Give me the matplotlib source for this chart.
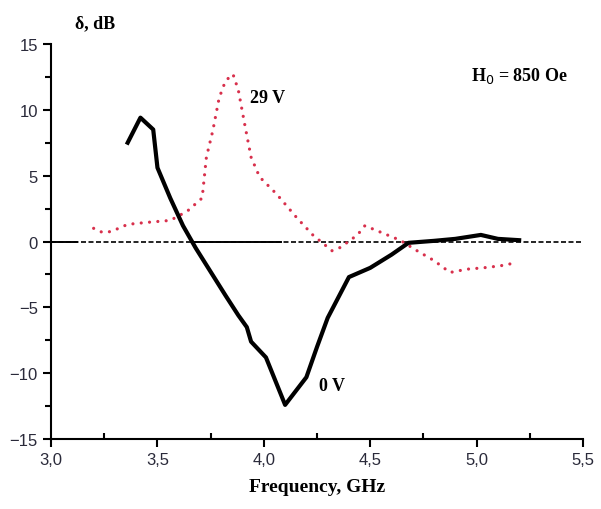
import numpy as np
import matplotlib
matplotlib.use('Agg')
import matplotlib.pyplot as plt

# 0 V curve (black, solid)
freq_0v = [3.36, 3.42, 3.48, 3.50, 3.56, 3.62, 3.68, 3.75, 3.82, 3.88, 3.92, 3.94,
           4.01, 4.05, 4.10, 4.20, 4.25, 4.30, 4.40, 4.50, 4.60, 4.68, 4.80, 4.90,
           5.02, 5.10, 5.20]
delta_0v = [7.5, 9.4, 8.5, 5.6, 3.3, 1.2, -0.5, -2.3, -4.1, -5.6, -6.5, -7.6,
            -8.8, -10.4, -12.4, -10.3, -8.0, -5.8, -2.7, -2.0, -1.0, -0.1, 0.05, 0.2,
            0.5, 0.2, 0.1]

# 29 V curve (red, dotted)
freq_29v = [3.20, 3.24, 3.28, 3.31, 3.36, 3.45, 3.56, 3.64, 3.71, 3.73, 3.76, 3.79,
            3.82, 3.855, 3.88, 3.91, 3.94, 3.98, 4.06, 4.155, 4.23, 4.32, 4.36, 4.44,
            4.475, 4.55, 4.64, 4.72, 4.80, 4.875, 4.955, 5.03, 5.11, 5.19]
delta_29v = [1.0, 0.7, 0.75, 0.95, 1.3, 1.45, 1.6, 2.3, 3.3, 6.4, 8.4, 10.9,
             12.2, 12.7, 11.5, 8.9, 6.4, 4.9, 3.6, 1.8, 0.5, -0.7, -0.45, 0.5,
             1.2, 0.7, 0.1, -0.7, -1.45, -2.35, -2.1, -2.0, -1.85, -1.6]

x_ticks = [3.0, 3.5, 4.0, 4.5, 5.0, 5.5]
x_labels = ['3,0', '3,5', '4,0', '4,5', '5,0', '5,5']
y_ticks = [-15, -10, -5, 0, 5, 10, 15]

serif = 'Liberation Serif'
sans = 'Liberation Sans'

fig = plt.figure(figsize=(6.01, 5.10), dpi=100)
ax = fig.add_axes([0.085, 0.137, 0.885, 0.775])

# zero reference line: dashed with a couple of solid pieces
ax.plot([3.0, 5.5], [0, 0], color='black', lw=1.2, ls=(0, (3, 1.5)))
ax.plot([3.0, 3.12], [0, 0], color='black', lw=1.4)
ax.plot([3.66, 4.08], [0, 0], color='black', lw=1.4)

ax.plot(freq_29v, delta_29v, color='#d8304c', lw=2.3, ls=(0, (0.01, 2.6)),
        dash_capstyle='round')
ax.plot(freq_0v, delta_0v, color='black', lw=3.0, solid_joinstyle='round')

ax.set_xlim(3.0, 5.5)
ax.set_ylim(-15, 15)
ax.set_xticks(x_ticks)
ax.set_xticklabels(x_labels)
ax.set_yticks(y_ticks)
ax.set_xticks(np.arange(3.25, 5.5, 0.5), minor=True)
ax.set_yticks(np.arange(-12.5, 15, 5), minor=True)

for s in ['top', 'right']:
    ax.spines[s].set_visible(False)
for s in ['left', 'bottom']:
    ax.spines[s].set_linewidth(1.5)

ax.tick_params(which='major', length=6, width=1.5, direction='out',
               labelsize=12, labelcolor='#2a2a3a')
ax.tick_params(axis='x', which='minor', length=4, width=1.5, direction='in')
ax.tick_params(axis='y', which='minor', length=4, width=1.5, direction='out')
for lab in ax.get_xticklabels() + ax.get_yticklabels():
    lab.set_fontfamily(sans)

ax.set_xlabel('Frequency, GHz', fontsize=14, fontweight='bold', fontfamily=serif,
              labelpad=8)
fig.text(0.158, 0.953, 'δ, dB', fontsize=13, fontweight='bold', fontfamily=serif,
         ha='center', va='center')
ax.text(0.88, 0.92, r'H$_0$ = 850 Oe', transform=ax.transAxes, fontsize=13,
        fontweight='bold', fontfamily=serif, ha='center', va='center')
ax.text(3.935, 10.9, '29 V', fontsize=13, fontweight='bold', fontfamily=serif,
        va='center')
ax.text(4.26, -10.9, '0 V', fontsize=13, fontweight='bold', fontfamily=serif,
        va='center')

fig.savefig('out.png', dpi=100)
